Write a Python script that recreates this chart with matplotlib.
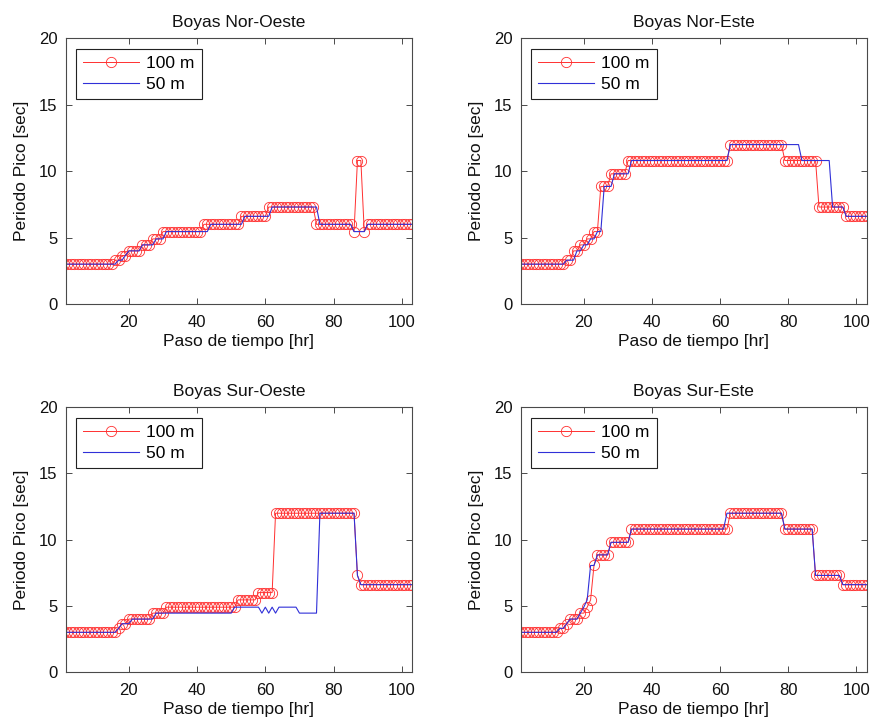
import matplotlib
matplotlib.use('agg')
import matplotlib.pyplot as plt
import numpy as np

# Hours 1..103
hours = np.arange(1, 104)

# Each series as (level, number of hours at that level)
no_100_levels = [3.0, 3.3, 3.65, 4.0, 4.45, 4.9, 5.45, 6.0, 6.6, 7.3, 6.0, 5.45, 10.8, 5.45, 6.0]
no_100_hours = [15, 2, 2, 4, 3, 3, 12, 11, 8, 14, 11, 1, 2, 1, 14]
no_50_levels = [3.0, 3.3, 3.65, 4.0, 4.45, 4.9, 5.45, 6.0, 6.6, 7.3, 6.0, 5.45, 6.0]
no_50_hours = [16, 2, 1, 4, 4, 3, 13, 10, 8, 14, 10, 4, 14]

ne_100_levels = [3.0, 3.3, 4.0, 4.45, 4.9, 5.45, 8.85, 9.8, 10.8, 12.0, 10.8, 7.3, 6.6]
ne_100_hours = [14, 2, 2, 2, 2, 2, 3, 5, 30, 16, 10, 8, 7]
ne_50_levels = [3.0, 3.3, 4.0, 4.45, 4.9, 5.45, 8.85, 9.8, 10.8, 12.0, 10.8, 7.3, 6.6]
ne_50_hours = [14, 3, 2, 2, 2, 2, 3, 5, 29, 21, 9, 4, 7]

so_100_levels = [3.0, 3.3, 3.65, 4.0, 4.45, 4.9, 5.45, 6.0, 12.0, 7.3, 6.6]
so_100_hours = [16, 1, 2, 7, 4, 21, 6, 5, 24, 1, 16]
so_50_levels = [3.0, 3.3, 3.65, 4.0, 4.45, 4.9, 4.45, 4.9, 4.45, 4.9, 4.45, 4.9, 4.45, 12.0, 7.3, 6.6]
so_50_hours = [16, 1, 3, 7, 23, 8, 1, 1, 1, 1, 1, 6, 6, 11, 1, 16]

se_100_levels = [3.0, 3.3, 3.65, 4.0, 4.45, 4.9, 5.45, 8.05, 8.85, 9.8, 10.8, 12.0, 10.8, 7.3, 6.6]
se_100_hours = [12, 2, 1, 3, 2, 1, 1, 1, 4, 6, 29, 16, 9, 8, 8]
se_50_levels = [3.0, 3.3, 3.65, 4.0, 4.45, 4.9, 5.45, 8.05, 8.85, 9.8, 10.8, 12.0, 10.8, 7.3, 6.6]
se_50_hours = [12, 2, 1, 3, 1, 1, 1, 2, 4, 6, 28, 17, 9, 8, 8]

titles = ["Boyas Nor-Oeste", "Boyas Nor-Este", "Boyas Sur-Oeste", "Boyas Sur-Este"]
labels = ["100 m", "50 m"]

plt.rcParams['font.family'] = ['Liberation Sans', 'DejaVu Sans']

fig = plt.figure(figsize=(8.75, 7.24), dpi=100)

# axes positions in figure fractions (left, bottom, width, height)
positions = [
    [0.0751, 0.5801, 0.3958, 0.367],
    [0.5951, 0.5801, 0.3954, 0.367],
    [0.0751, 0.0718, 0.3958, 0.3656],
    [0.5951, 0.0718, 0.3954, 0.3656],
]

series = [
    (no_100_levels, no_100_hours, no_50_levels, no_50_hours),
    (ne_100_levels, ne_100_hours, ne_50_levels, ne_50_hours),
    (so_100_levels, so_100_hours, so_50_levels, so_50_hours),
    (se_100_levels, se_100_hours, se_50_levels, se_50_hours),
]

axis_gray = '#4a4a4a'

for pos, title, (l100, h100, l50, h50) in zip(positions, titles, series):
    ax = fig.add_axes(pos)
    y100 = np.repeat(l100, h100)
    y50 = np.repeat(l50, h50)

    ax.plot(hours, y100, color='#ff3030', lw=0.7, marker='o', markersize=7.4,
            markerfacecolor='none', markeredgewidth=0.6, label=labels[0])
    ax.plot(hours, y50, color='#3030d8', lw=0.8, label=labels[1])

    ax.set_xlim(1.5, 103)
    ax.set_ylim(0, 20)
    ax.set_xticks([20, 40, 60, 80, 100])
    ax.set_yticks([0, 5, 10, 15, 20])
    ax.tick_params(direction='in', top=True, right=True, length=4, width=0.7,
                   color=axis_gray, labelsize=12, labelcolor='#111111')
    ax.tick_params(axis='x', pad=8)
    ax.tick_params(axis='y', pad=6)
    for sp in ax.spines.values():
        sp.set_color(axis_gray)
        sp.set_linewidth(0.8)

    ax.set_title(title, fontsize=12.5, pad=8, color='#111111')
    ax.set_xlabel("Paso de tiempo [hr]", fontsize=12.5, labelpad=3, color='#111111')
    ax.set_ylabel("Periodo Pico [sec]", fontsize=12.5, labelpad=7, color='#111111')

    leg = ax.legend(loc='upper left', fontsize=12.5, handlelength=3.2,
                    handletextpad=0.45, borderaxespad=0.6, labelspacing=0.35,
                    borderpad=0.4, fancybox=False, framealpha=1)
    leg.get_frame().set_edgecolor('#222222')
    leg.get_frame().set_linewidth(0.8)

fig.savefig('out.png', dpi=100)
